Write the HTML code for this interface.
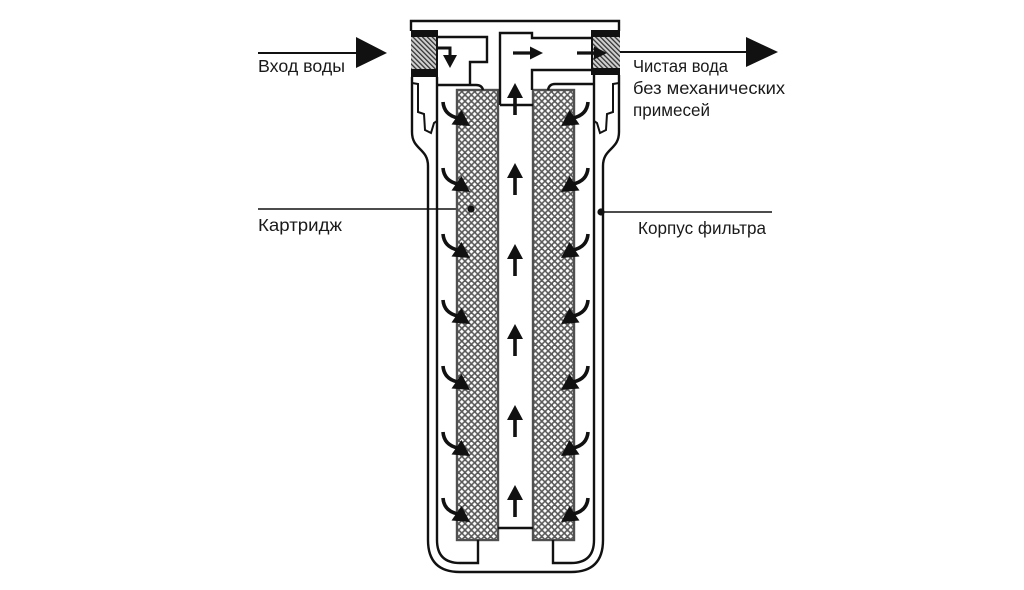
<!DOCTYPE html>
<html><head><meta charset="utf-8"><style>
html,body{margin:0;padding:0;background:#fff;}
svg{display:block;}
text{font-family:"Liberation Sans","DejaVu Sans",sans-serif;fill:#1a1a1a;font-size:17.5px;}
</style></head><body>
<svg width="1024" height="590" viewBox="0 0 1024 590" xmlns="http://www.w3.org/2000/svg">
<defs>
  <pattern id="mesh" patternUnits="userSpaceOnUse" width="6.4" height="6.4" x="457" y="90">
    <rect width="6.4" height="6.4" fill="#5a5a5a"/>
    <polygon points="1.6,-0.5 3.7,1.6 1.6,3.7 -0.5,1.6" fill="#fff"/>
    <polygon points="4.8,2.7 6.9,4.8 4.8,6.9 2.7,4.8" fill="#fff"/>
    <polygon points="4.8,-3.7 6.9,-1.6 4.8,0.5 2.7,-1.6" fill="#fff"/>
    <polygon points="-1.6,2.7 0.5,4.8 -1.6,6.9 -3.7,4.8" fill="#fff"/>
  </pattern>
  <pattern id="hatch" patternUnits="userSpaceOnUse" width="3.4" height="3.4" patternTransform="rotate(-45)">
    <rect width="3.4" height="3.4" fill="#d0d0d0"/>
    <rect width="1.3" height="3.4" fill="#333"/>
  </pattern>
  <g id="carrow">
    <path d="M-26,-24 Q-25,-11 -11,-8" fill="none" stroke="#111" stroke-width="3.6"/>
    <polygon points="1,0 -17.5,-1.5 -7.5,-16" fill="#111"/>
  </g>
  <g id="uarrow">
    <polygon points="0,0 -8,15 8,15" fill="#111"/>
    <rect x="-1.8" y="14" width="3.6" height="18" fill="#111"/>
  </g>
</defs>

<!-- inlet arrow -->
<line x1="258" y1="53" x2="357" y2="53" stroke="#111" stroke-width="2"/>
<polygon points="356,37 356,68 387,53" fill="#111"/>
<text x="258" y="72" textLength="87" lengthAdjust="spacingAndGlyphs">Вход воды</text>

<!-- outlet arrow -->
<line x1="618" y1="52" x2="748" y2="52" stroke="#111" stroke-width="2"/>
<polygon points="746,37 746,67 778,52" fill="#111"/>
<text x="633" y="72" textLength="95" lengthAdjust="spacingAndGlyphs">Чистая вода</text>
<text x="633" y="94" textLength="152" lengthAdjust="spacingAndGlyphs">без механических</text>
<text x="633" y="116" textLength="77" lengthAdjust="spacingAndGlyphs">примесей</text>

<!-- leaders -->
<line x1="258" y1="209" x2="471" y2="209" stroke="#111" stroke-width="1.6"/>
<text x="258" y="231" textLength="84" lengthAdjust="spacingAndGlyphs">Картридж</text>
<line x1="601" y1="212" x2="772" y2="212" stroke="#111" stroke-width="1.6"/>
<text x="638" y="234" textLength="128" lengthAdjust="spacingAndGlyphs">Корпус фильтра</text>

<!-- cartridges -->
<rect x="457" y="90" width="41" height="450" fill="url(#mesh)" stroke="#505050" stroke-width="2.4"/>
<rect x="533" y="90" width="41" height="450" fill="url(#mesh)" stroke="#505050" stroke-width="2.4"/>

<g fill="none" stroke="#111" stroke-width="2.4" stroke-linejoin="miter">
  <!-- top cap -->
  <path d="M411,31 L411,21 L619,21 L619,31"/>
  <!-- outer housing -->
  <path d="M412,77 L412,132 C412,150 428,148 428,166 L428,540 Q428,572 460,572 L571,572 Q603,572 603,540 L603,166 C603,148 619,150 619,132 L619,75"/>
  <!-- inner wall -->
  <path d="M437,77 L437,540 Q437,563 460,563 L478,563 L478,540"/>
  <path d="M594,75 L594,540 Q594,563 571,563 L553,563 L553,540"/>
  <!-- threads -->
  <path d="M412,83 L418,84 L418,112 L424,114 L425,130 L431,133 L434,123 L437,121" stroke-width="2"/>
  <path d="M619,83 L613,84 L613,112 L607,114 L606,130 L600,133 L597,123 L594,121" stroke-width="2"/>
  <!-- inlet channel -->
  <path d="M437,37 L487,37 L487,62 L470,62 L470,85"/>
  <path d="M437,85 L476,85 Q482,85 483,90"/>
  <!-- right channel -->
  <path d="M594,84 L555,84 Q549,84 548,90"/>
  <!-- outlet -->
  <path d="M500,105 L500,33 L532,33 L532,38 L592,38"/>
  <path d="M592,70 L532,70 L532,90"/>
  <path d="M500,105 L533,105"/>
  <!-- tube bottom -->
  <path d="M498,528 L533,528"/>
</g>

<!-- blocks -->
<rect x="411" y="30" width="26" height="47" fill="url(#hatch)"/>
<rect x="411" y="30" width="26" height="7" fill="#111"/>
<rect x="411" y="69" width="26" height="8" fill="#111"/>
<line x1="437" y1="30" x2="437" y2="77" stroke="#111" stroke-width="2"/>
<rect x="592" y="30" width="28" height="45" fill="url(#hatch)"/>
<rect x="592" y="30" width="28" height="7" fill="#111"/>
<rect x="592" y="68" width="28" height="7" fill="#111"/>
<line x1="592" y1="30" x2="592" y2="75" stroke="#111" stroke-width="2"/>

<!-- channel arrows -->
<path d="M437,48 L450,48 L450,57" fill="none" stroke="#111" stroke-width="3"/>
<polygon points="443,55 457,55 450,68" fill="#111"/>
<line x1="513" y1="53" x2="532" y2="53" stroke="#111" stroke-width="3.2"/>
<polygon points="530,46.5 530,59.5 543,53" fill="#111"/>
<line x1="577" y1="53" x2="596" y2="53" stroke="#111" stroke-width="3.2"/>
<polygon points="594,46.5 594,59.5 607,53" fill="#111"/>

<!-- curved arrows left -->
<use href="#carrow" transform="translate(469,126)"/>
<use href="#carrow" transform="translate(469,192)"/>
<use href="#carrow" transform="translate(469,258)"/>
<use href="#carrow" transform="translate(469,324)"/>
<use href="#carrow" transform="translate(469,390)"/>
<use href="#carrow" transform="translate(469,456)"/>
<use href="#carrow" transform="translate(469,522)"/>
<!-- curved arrows right (mirrored) -->
<g transform="translate(1031,0) scale(-1,1)">
<use href="#carrow" transform="translate(469,126)"/>
<use href="#carrow" transform="translate(469,192)"/>
<use href="#carrow" transform="translate(469,258)"/>
<use href="#carrow" transform="translate(469,324)"/>
<use href="#carrow" transform="translate(469,390)"/>
<use href="#carrow" transform="translate(469,456)"/>
<use href="#carrow" transform="translate(469,522)"/>
</g>

<!-- up arrows -->
<use href="#uarrow" transform="translate(515,83)"/>
<use href="#uarrow" transform="translate(515,163)"/>
<use href="#uarrow" transform="translate(515,244)"/>
<use href="#uarrow" transform="translate(515,324)"/>
<use href="#uarrow" transform="translate(515,405)"/>
<use href="#uarrow" transform="translate(515,485)"/>

<!-- leader dots -->
<circle cx="471" cy="209" r="3.6" fill="#111"/>
<circle cx="601" cy="212" r="3.6" fill="#111"/>
</svg>
</body></html>
